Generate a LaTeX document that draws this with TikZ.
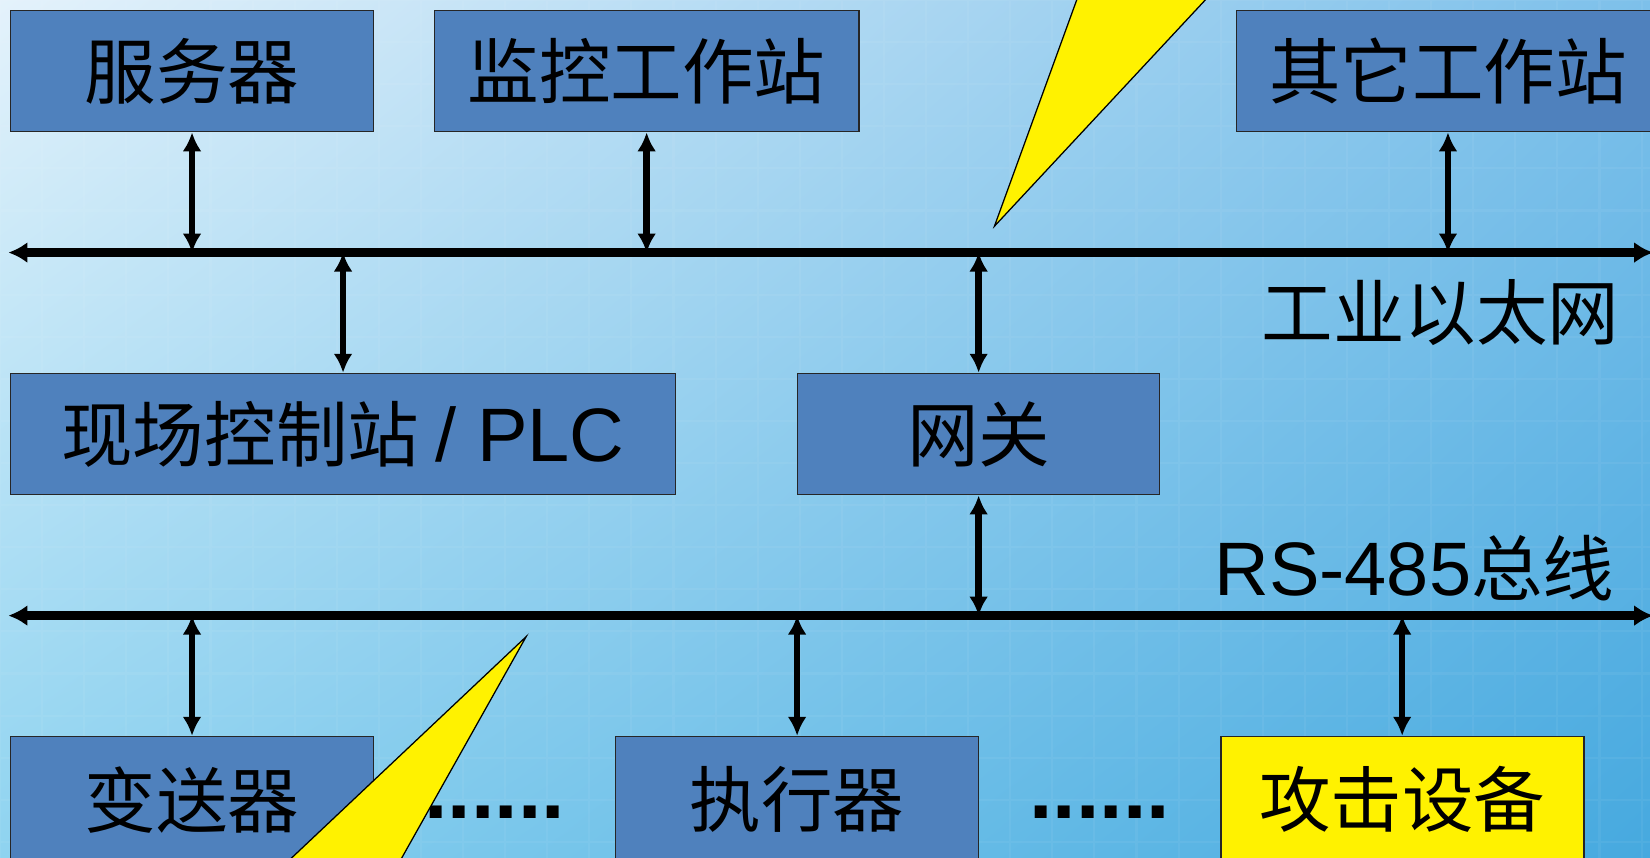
\documentclass[tikz,border=0pt]{standalone}
\usepackage{fontspec}
\setmainfont{Liberation Sans}
\newfontfamily\cjk{Noto Sans CJK SC}
\usetikzlibrary{arrows.meta,shadings}
\definecolor{boxblue}{HTML}{4F81BD}
\definecolor{bgtl}{HTML}{E4F2FB}
\definecolor{bgtr}{HTML}{7DC0EA}
\definecolor{bgbl}{HTML}{8ED3F0}
\definecolor{bgbr}{HTML}{46A9DF}
\begin{document}
\begin{tikzpicture}[x=0.5pt, y=-0.5pt]
	\tikzset{box/.style = {draw=black!85, line width=0.8pt, fill=boxblue, inner sep=0pt, font=\cjk\fontsize{34pt}{40pt}\selectfont}}
	\tikzset{edge/.style = {line width=3pt, {Latex[length=9pt,width=9pt]}-{Latex[length=9pt,width=9pt]}}}
	\tikzset{bus/.style = {line width=4pt, {Latex[length=9pt,width=10pt]}-{Latex[length=9pt,width=10pt]}}}
	\tikzset{bolt/.style = {fill=yellow, draw=black, line width=0.6pt, line join=miter}}
	\useasboundingbox (0,0) rectangle (1568,815);
	\clip (0,0) rectangle (1568,815);
	% background
	\shade[upper left=bgtl, upper right=bgtr, lower left=bgbl, lower right=bgbr] (0,0) rectangle (1568,815);
	\draw[white, opacity=0.05, line width=1pt] (0,0) grid[step=20pt] (1568,815);
	% upper level
	\node[box, minimum width=172.5pt, minimum height=57.5pt] (server) at (182.5,67.5) {服务器};
	\node[box, minimum width=201.5pt, minimum height=57.5pt] (monitor) at (614.5,67.5) {监控工作站};
	\node[box, minimum width=201pt, minimum height=57.5pt] (other) at (1376,67.5) {其它工作站};
	\draw[bolt] (1025,-5) -- (1150,-5) -- (945,215) -- cycle;
	% industrial ethernet
	\coordinate (ethL) at (8,240);
	\coordinate (ethR) at (1571,240);
	\draw[bus] (ethL) -- (ethR);
	\node[font=\cjk\fontsize{34pt}{40pt}\selectfont] (ethlabel) at (1369,297) {工业以太网};
	\draw[edge] (server) -- (server |- ethL);
	\draw[edge] (monitor) -- (monitor |- ethL);
	\draw[edge] (other) -- (other |- ethL);
	% field level
	\node[box, minimum width=316pt, minimum height=57.5pt] (plc) at (326,412.5) {现场控制站 {\rmfamily\fontsize{36pt}{40pt}\selectfont / PLC}};
	\node[box, minimum width=172pt, minimum height=57.5pt] (gateway) at (930,412.5) {网关};
	\draw[edge] (plc) -- (plc |- ethL);
	\draw[edge] (gateway) -- (gateway |- ethL);
	% RS-485 bus
	\coordinate (rsL) at (8,585);
	\coordinate (rsR) at (1571,585);
	\draw[bus] (rsL) -- (rsR);
	\node (rslabel) at (1344,540) {\fontsize{36pt}{40pt}\selectfont RS-485{\cjk\fontsize{34pt}{40pt}\selectfont 总线}};
	\draw[edge] (gateway) -- (gateway |- rsL);
	% devices
	\node[box, minimum width=172.5pt, minimum height=60pt] (transmitter) at (182.5,760) {变送器};
	\node[box, minimum width=172.5pt, minimum height=60pt] (actuator) at (757.5,760) {执行器};
	\node[box, fill=yellow, minimum width=172.5pt, minimum height=60pt] (attacker) at (1332.5,760) {攻击设备};
	\draw[edge] (transmitter) -- (transmitter |- rsL);
	\draw[edge] (actuator) -- (actuator |- rsL);
	\draw[edge] (attacker) -- (attacker |- rsL);
	\node[font=\bfseries\fontsize{40pt}{44pt}\selectfont] (dotsA) at (470,772) {......};
	\node[font=\bfseries\fontsize{40pt}{44pt}\selectfont] (dotsB) at (1045,772) {......};
	\draw[bolt] (500,605) -- (378,822) -- (270,822) -- cycle;
\end{tikzpicture}
\end{document}
